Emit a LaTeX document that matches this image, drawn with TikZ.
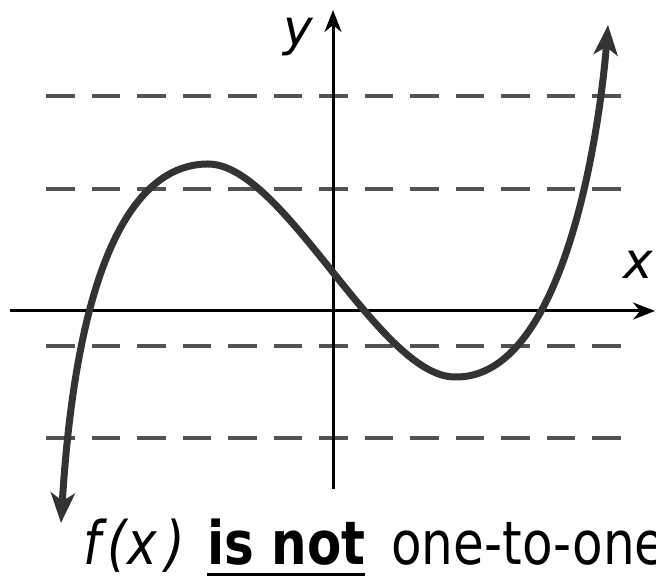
\documentclass[tikz,border=0pt]{standalone}
\usepackage{fontspec}
\setmainfont{DejaVu Sans}
\usetikzlibrary{arrows.meta}
\newsavebox{\ulsave}
\newcommand{\thickul}[1]{\sbox{\ulsave}{#1}\rlap{\rule[-9.5pt]{\wd\ulsave}{3pt}}\usebox{\ulsave}}

\begin{document}
\begin{tikzpicture}[x=1pt,y=1pt,
  axis/.style={line width=3pt,-{Stealth[length=22pt,width=17pt,inset=7pt]}},
  level/.style={line width=4.5pt,black!68,dash pattern=on 28.5pt off 17pt},
  graph/.style={line width=7pt,black!80,{Stealth[length=30pt,width=24pt,inset=8pt]}-{Stealth[length=30pt,width=24pt,inset=8pt]}},
  lbl/.style={font=\fontsize{50}{60}\selectfont\itshape}
]
\useasboundingbox (0,0) rectangle (656,577);

% axes end points
\coordinate (xl) at (10,266);
\coordinate (xr) at (655,266);
\coordinate (yb) at (333,88);
\coordinate (yt) at (333,567);

% horizontal line test
\foreach \h in {481,388,231,139}
  \draw[level] (46,\h) -- (621,\h);

\draw[axis] (xl) -- (xr);
\draw[axis] (yb) -- (yt);
\node[lbl] (ylbl) at (298,540) {y};
\node[lbl] (xlbl) at (638,312) {x};

% the cubic: tip, max, min, tip
\coordinate (lo) at (61,54);
\coordinate (top) at (208,413);
\coordinate (bot) at (455,200);
\coordinate (hi) at (608,552);
\draw[graph] (lo) .. controls (78,330) and (140,413) .. (top)
  .. controls (284,413) and (379,200) .. (bot)
  .. controls (565,198) and (600,450) .. (hi);

\node[anchor=base west,inner sep=0pt,font=\fontsize{50}{60}\selectfont] (caption) at (83,12)
  {\scalebox{1}[1.2]{\textit{f\kern7pt(x\kern9pt)}\hspace{6pt} \thickul{\textbf{is not}}\hspace{10pt} one-to-one}};
\end{tikzpicture}
\end{document}
